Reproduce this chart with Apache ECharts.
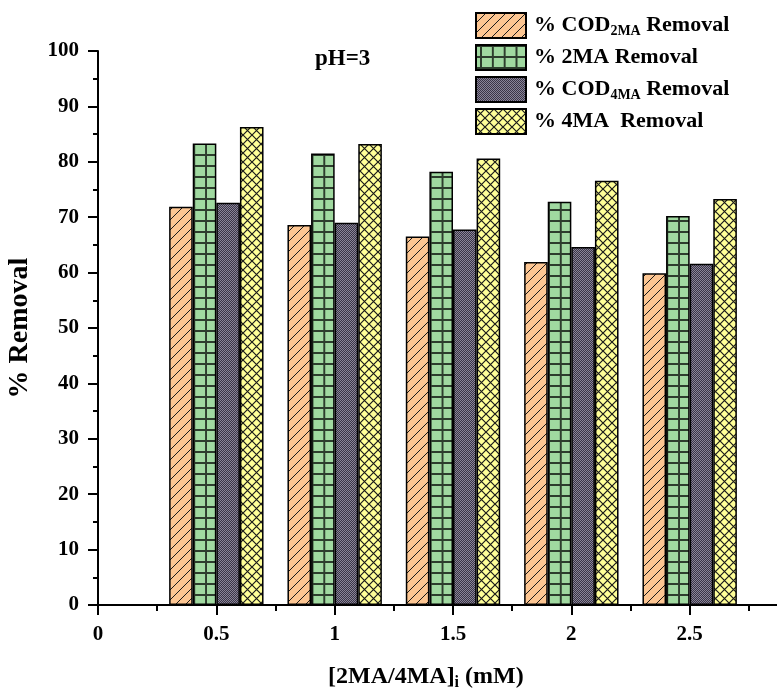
<!DOCTYPE html>
<html><head><meta charset="utf-8">
<script src="https://cdn.jsdelivr.net/npm/echarts@6/dist/echarts.min.js"></script>
<style>html,body{margin:0;padding:0;background:#fff}#c{width:777px;height:692px}</style>
</head><body><div id="c"></div>
<script>
// ---- data ----
const concentrations = [0.5, 1, 1.5, 2, 2.5];
const codRemoval2MA = [71.9, 68.6, 66.5, 61.9, 59.9];
const removal2MA = [83.3, 81.5, 78.2, 72.8, 70.2];
const codRemoval4MA = [72.6, 69.0, 67.8, 64.6, 61.6];
const removal4MA = [86.3, 83.2, 80.6, 76.6, 73.3];
const seriesNames = ['COD2MA', '2MA', 'COD4MA', '4MA'];
const legendLabels = {
  'COD2MA': '% COD{sub|2MA} Removal',
  '2MA': '% 2MA Removal',
  'COD4MA': '% COD{sub|4MA} Removal',
  '4MA': '% 4MA  Removal'
};
const yTicks = {min: 0, max: 100, interval: 10};
const xTicks = {min: 0, max: 3, interval: 0.5};

const FONT = '"Liberation Serif", "Times New Roman", serif';

function makePattern(w, h, draw) {
  const cv = document.createElement('canvas');
  cv.width = w; cv.height = h;
  const ctx = cv.getContext('2d');
  draw(ctx, w, h);
  return cv;
}
const hatchOrange = makePattern(10, 10, (c, w, h) => {
  c.fillStyle = '#FDC692'; c.fillRect(0, 0, w, h);
  c.strokeStyle = '#1a1a1a'; c.lineWidth = 1;
  c.beginPath();
  c.moveTo(-1, h + 1); c.lineTo(w + 1, -1);
  c.moveTo(-1, 1); c.lineTo(1, -1);
  c.moveTo(w - 1, h + 1); c.lineTo(w + 1, h - 1);
  c.stroke();
});
const gridGreen = makePattern(12, 11, (c, w, h) => {
  c.fillStyle = '#A0D9A0'; c.fillRect(0, 0, w, h);
  c.fillStyle = '#2d3d2d';
  c.fillRect(0, 0, 2, h);
  c.fillRect(0, 0, w, 2);
});
const dotsDark = makePattern(2, 2, (c, w, h) => {
  c.fillStyle = '#3a3547'; c.fillRect(0, 0, 2, 2);
  c.fillStyle = '#8a8598'; c.fillRect(0, 0, 1, 1); c.fillRect(1, 1, 1, 1);
});
const crossYellow = makePattern(9, 9, (c, w, h) => {
  c.fillStyle = '#FFFF98'; c.fillRect(0, 0, w, h);
  c.strokeStyle = '#1a1a1a'; c.lineWidth = 1.2;
  c.beginPath();
  c.moveTo(-1, -1); c.lineTo(w + 1, h + 1);
  c.moveTo(-1, h + 1); c.lineTo(w + 1, -1);
  c.stroke();
});
const patterns = [
  {image: hatchOrange, repeat: 'repeat'},
  {image: gridGreen, repeat: 'repeat', x: 4, scaleX: 0.9854},
  {image: dotsDark, repeat: 'repeat'},
  {image: crossYellow, repeat: 'repeat'}
];
const values = [codRemoval2MA, removal2MA, codRemoval4MA, removal4MA];

const chart = echarts.init(document.getElementById('c'), null, {renderer: 'canvas'});
const axisCommon = {
  axisLine: {show: true, onZero: true, lineStyle: {color: '#000', width: 2}},
  axisTick: {show: true, inside: false, length: 10, lineStyle: {color: '#000', width: 2}},
  minorTick: {show: true, splitNumber: 2, length: 6, lineStyle: {color: '#000', width: 2}},
  splitLine: {show: false},
  minorSplitLine: {show: false},
  axisLabel: {color: '#000', fontFamily: FONT, fontWeight: 'bold', fontSize: 21}
};
chart.setOption({
  animation: false,
  backgroundColor: '#fff',
  title: [
    {text: 'pH=3', left: 310, top: 43,
     textStyle: {fontFamily: FONT, fontWeight: 'bold', fontSize: 23, color: '#000'}},
    {text: '[2MA/4MA]{sub|i} (mM)', left: 323, top: 658,
     textStyle: {fontFamily: FONT, fontWeight: 'bold', fontSize: 24, color: '#000',
       rich: {sub: {fontFamily: FONT, fontWeight: 'bold', fontSize: 16, color: '#000', verticalAlign: 'bottom', padding: [12, 0, 0, 0]}}}}
  ],
  legend: {
    orient: 'vertical', left: 475, top: 12, padding: 0,
    icon: 'rect',
    itemWidth: 50, itemHeight: 25, itemGap: 5,
    data: seriesNames,
    formatter: name => legendLabels[name],
    textStyle: {fontFamily: FONT, fontWeight: 'bold', fontSize: 22, color: '#000', padding: [0, 0, 0, 3],
      rich: {sub: {fontFamily: FONT, fontWeight: 'bold', fontSize: 14, color: '#000', verticalAlign: 'bottom', padding: [11, 0, 0, 0]}}}
  },
  grid: {left: 98, top: 51, right: -31, bottom: 87, containLabel: false, outerBoundsMode: 'none'},
  xAxis: Object.assign({}, axisCommon, {
    type: 'value', min: xTicks.min, max: xTicks.max, interval: xTicks.interval,
    axisLabel: Object.assign({}, axisCommon.axisLabel, {margin: 19})
  }),
  yAxis: Object.assign({}, axisCommon, {
    type: 'value', min: yTicks.min, max: yTicks.max, interval: yTicks.interval,
    minorTick: Object.assign({}, axisCommon.minorTick, {length: 5}),
    axisLabel: Object.assign({}, axisCommon.axisLabel, {margin: 19}),
    name: '% Removal', nameLocation: 'middle', nameRotate: 90, nameGap: 64,
    nameTextStyle: {fontFamily: FONT, fontWeight: 'bold', fontSize: 28, color: '#000'}
  }),
  series: seriesNames.map((n, i) => ({
    name: n, type: 'bar',
    barWidth: 23.6, barGap: '0%',
    data: concentrations.map((x, j) => [x, values[i][j]]),
    itemStyle: {color: patterns[i], borderColor: '#000', borderWidth: 1.5}
  }))
});
</script></body></html>
